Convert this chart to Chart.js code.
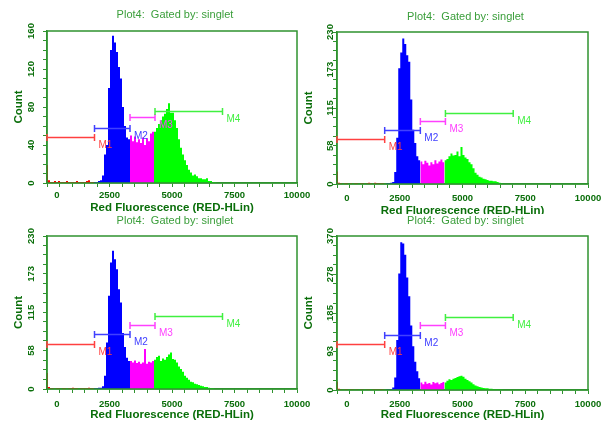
<!DOCTYPE html>
<html>
<head>
<meta charset="utf-8">
<title>Plot4 histograms</title>
<script src="https://cdn.jsdelivr.net/npm/chart.js@4.4.1/dist/chart.umd.min.js"></script>
<style>
  html, body { margin: 0; padding: 0; background: #fff; }
  #wrap { position: relative; width: 605px; height: 421px; overflow: hidden; }
  #wrap canvas { position: absolute; }
</style>
</head>
<body>
<div id="wrap">
  <canvas id="p1" width="312" height="214" style="left:0;top:0"></canvas>
  <canvas id="p2" width="305" height="214" style="left:300px;top:0"></canvas>
  <canvas id="p3" width="312" height="207" style="left:0;top:214px"></canvas>
  <canvas id="p4" width="305" height="207" style="left:300px;top:214px"></canvas>
</div>
<script>
/* ── Histogram data (RED-HLin channel, bins of 80 starting at -40) ── */
const binStart = -40;
const binWidth = 80;

const counts1 = [
  19, 3, 1, 1, 2, 1, 2, 1, 1, 1, 2, 1, 1, 1, 1, 2, 1, 1, 1, 1, 2, 3, 1,
  1, 1, 1, 2, 3, 8, 30, 40, 100, 140, 155, 148, 138, 122, 110, 80, 60, 48, 46,
  50, 44, 49, 43, 46, 42, 48, 40, 47, 44, 52, 54,
  54, 58, 62, 66, 70, 73, 78, 84, 74, 74, 66, 58, 46, 37, 30, 24, 19, 14, 11, 8,
  9, 7, 5, 5, 4, 4, 5, 2, 2, 1, 1, 0
];
const counts2 = [
  19, 2, 1, 0, 1, 1, 0, 1, 0, 1, 1, 0, 1, 1, 0, 1, 2, 1, 0, 2, 1, 1, 1,
  1, 0, 1, 1, 2, 3, 18, 70, 175, 199, 220, 212, 195, 185, 128, 82, 62, 42, 36,
  34, 30, 35, 32, 28, 33, 30, 36, 31, 34, 37, 33,
  36, 38, 42, 46, 43, 44, 49, 42, 56, 44, 40, 38, 33, 30, 24, 17, 14, 11, 10, 8,
  7, 6, 5, 5, 4, 4, 3, 2, 1, 0, 0, 0
];
const counts3 = [
  24, 3, 1, 1, 0, 1, 1, 0, 1, 1, 0, 1, 1, 2, 1, 1, 0, 1, 1, 1, 1, 2, 1,
  1, 1, 1, 2, 2, 4, 20, 70, 140, 190, 208, 195, 180, 150, 130, 84, 63, 47, 42,
  42, 40, 43, 39, 41, 38, 40, 60, 38, 41, 40, 42,
  44, 48, 50, 42, 46, 44, 48, 52, 55, 45, 44, 40, 34, 30, 26, 20, 17, 14, 11, 10,
  8, 7, 6, 5, 4, 3, 3, 2, 1, 1, 0, 0
];
const counts4 = [
  20, 3, 1, 0, 1, 1, 0, 1, 1, 0, 1, 0, 1, 1, 0, 1, 1, 0, 1, 1, 1, 1, 2,
  1, 0, 1, 1, 2, 6, 30, 120, 280, 355, 352, 325, 270, 225, 155, 105, 68, 45, 28,
  18, 14, 20, 15, 17, 13, 19, 16, 18, 14, 17, 19,
  18, 22, 26, 24, 27, 29, 31, 33, 34, 32, 27, 24, 21, 18, 14, 11, 9, 7, 6, 5,
  4, 4, 3, 3, 2, 2, 2, 1, 1, 0, 0, 0
];

/* ── Markers M1..M4 ── */
const gateNames = ['M1', 'M2', 'M3', 'M4'];
const gateStart = [0, 1900, 3320, 4320];
const gateEnd = [1900, 3320, 4320, 7020];
const gateLevels1 = [48, 58, 69, 76];
const gateLevels2 = [68, 82, 96, 108];
const gateLevels3 = [68, 83, 96, 109];
const gateLevels4 = [110, 133, 155, 176];

/* ── Axes ── */
const xTicks = [0, 2500, 5000, 7500, 10000];
const yTicks1 = [0, 40, 80, 120, 160];
const yTicks2 = [0, 58, 115, 173, 230];
const yTicks3 = [0, 58, 115, 173, 230];
const yTicks4 = [0, 93, 185, 278, 370];

const plotTitle = 'Plot4:  Gated by: singlet';
const xTitle = 'Red Fluorescence (RED-HLin)';
const yTitle = 'Count';

/* ── Style ── */
const FONT = "'Liberation Sans', Arial, sans-serif";
const fillColors = ['#ff0000', '#0000ff', '#ff00ff', '#00ff00'];
const gateColors = ['#ff4040', '#4040ff', '#ff40ff', '#40f040'];
const frameColor = '#2f932f';
const tickColor = '#0a6e0a';
const titleColor = '#3a9e3a';

// panel placement inside each canvas (chart area edges + text offsets)
const panels = [
  { id: 'p1', counts: counts1, levels: gateLevels1, yTicks: yTicks1,
    area: { l: 47, r: 297, t: 31, b: 183 }, titleY: 14.5, xTitleY: 208, yTitleX: 18.5, yLabGap: 16, xLabGap: 12.5 },
  { id: 'p2', counts: counts2, levels: gateLevels2, yTicks: yTicks2,
    area: { l: 37, r: 288, t: 32, b: 184 }, titleY: 16.5, xTitleY: 211, yTitleX: 9, yLabGap: 6.5, xLabGap: 14 },
  { id: 'p3', counts: counts3, levels: gateLevels3, yTicks: yTicks3,
    area: { l: 47, r: 297, t: 22, b: 175 }, titleY: 7, xTitleY: 200.5, yTitleX: 19, yLabGap: 16, xLabGap: 15.5 },
  { id: 'p4', counts: counts4, levels: gateLevels4, yTicks: yTicks4,
    area: { l: 37, r: 288, t: 22, b: 176 }, titleY: 7, xTitleY: 201, yTitleX: 9, yLabGap: 6.5, xLabGap: 14.5 }
];

function regionOf(v) {
  for (let k = 0; k < gateEnd.length; k++) {
    if (v < gateEnd[k]) return k;
  }
  return gateEnd.length - 1;
}

// split the histogram into one filled step series per marker colour
function histDatasets(counts) {
  const parts = gateNames.map(function () { return []; });
  counts.forEach(function (c, i) {
    const left = binStart + i * binWidth;
    parts[regionOf(left + binWidth / 2)].push({ x: left, y: c });
  });
  return parts.map(function (pts, k) {
    const last = pts[pts.length - 1];
    if (last) pts.push({ x: last.x + binWidth, y: last.y });
    return {
      data: pts,
      stepped: true,
      fill: 'origin',
      backgroundColor: fillColors[k],
      borderColor: 'rgba(0,0,0,0)',
      borderWidth: 0,
      pointRadius: 0
    };
  });
}

// major ticks plus three minor ticks between each pair
function withMinor(majors) {
  const out = [];
  for (let i = 0; i < majors.length; i++) {
    out.push({ value: majors[i] });
    if (i < majors.length - 1) {
      const step = (majors[i + 1] - majors[i]) / 4;
      for (let j = 1; j < 4; j++) out.push({ value: majors[i] + step * j });
    }
  }
  return out;
}

const decor = {
  id: 'decor',
  afterDatasetsDraw: function (chart, args, opts) {
    const p = opts.panel;
    const ctx = chart.ctx;
    const ca = chart.chartArea;
    const xs = chart.scales.x, ys = chart.scales.y;
    ctx.save();

    // frame
    ctx.strokeStyle = frameColor;
    ctx.lineWidth = 1.5;
    ctx.strokeRect(ca.left, ca.top, ca.right - ca.left, ca.bottom - ca.top);

    // marker bars
    ctx.font = '10px ' + FONT;
    ctx.textAlign = 'left';
    ctx.textBaseline = 'middle';
    gateNames.forEach(function (name, k) {
      const y = Math.round(ys.getPixelForValue(p.levels[k])) + 0.5;
      const x0 = xs.getPixelForValue(gateStart[k]);
      const x1 = xs.getPixelForValue(gateEnd[k]);
      ctx.strokeStyle = gateColors[k];
      ctx.lineWidth = 1.5;
      ctx.beginPath();
      ctx.moveTo(x0, y); ctx.lineTo(x1, y);
      ctx.moveTo(x0, y - 3.5); ctx.lineTo(x0, y + 3.5);
      ctx.moveTo(x1, y - 3.5); ctx.lineTo(x1, y + 3.5);
      ctx.stroke();
      ctx.fillStyle = gateColors[k];
      ctx.fillText(name, x1 + 4, y + 8);
    });

    // tick labels
    ctx.fillStyle = tickColor;
    ctx.font = 'bold 9.5px ' + FONT;
    ctx.textAlign = 'center';
    ctx.textBaseline = 'middle';
    xTicks.forEach(function (v) {
      const x = Math.max(xs.getPixelForValue(v), ca.left + 10);
      ctx.fillText(String(v), x, ca.bottom + p.xLabGap);
    });
    p.yTicks.forEach(function (v) {
      ctx.save();
      ctx.translate(ca.left - p.yLabGap, ys.getPixelForValue(v));
      ctx.rotate(-Math.PI / 2);
      ctx.fillText(String(v), 0, 0);
      ctx.restore();
    });

    // plot title
    ctx.fillStyle = titleColor;
    ctx.font = '11px ' + FONT;
    ctx.fillText(plotTitle, (ca.left + ca.right) / 2 + 3, p.titleY);
    ctx.restore();
  }
};

panels.forEach(function (p) {
  const canvas = document.getElementById(p.id);
  const W = canvas.width, H = canvas.height;
  const yMax = p.yTicks[p.yTicks.length - 1];
  const titleFont = { family: FONT, size: 11.5, weight: 'bold', lineHeight: 1.2 };
  const half = 11.5 * 1.2 / 2;

  new Chart(canvas, {
    type: 'line',
    data: { datasets: histDatasets(p.counts) },
    options: {
      responsive: false,
      animation: false,
      events: [],
      layout: { padding: { left: 0, top: p.area.t, right: W - p.area.r, bottom: 0 } },
      plugins: {
        legend: { display: false },
        tooltip: { enabled: false },
        decor: { panel: p }
      },
      scales: {
        x: {
          type: 'linear',
          min: 0,
          max: 10000,
          ticks: { display: false, stepSize: 500 },
          grid: { drawOnChartArea: false, drawTicks: true, tickLength: 4, color: frameColor, lineWidth: 1 },
          border: { display: true, color: frameColor, width: 1.5 },
          title: {
            display: true, text: xTitle, color: tickColor, font: titleFont,
            padding: { top: 0, bottom: H - p.xTitleY - half }
          },
          afterFit: function (s) { s.height = H - p.area.b; }
        },
        y: {
          type: 'linear',
          min: 0,
          max: yMax,
          ticks: { display: false },
          afterBuildTicks: function (s) { s.ticks = withMinor(p.yTicks); },
          grid: { drawOnChartArea: false, drawTicks: true, tickLength: 4, color: frameColor, lineWidth: 1 },
          border: { display: true, color: frameColor, width: 1.5 },
          title: {
            display: true, text: yTitle, color: tickColor, font: titleFont,
            padding: { top: p.yTitleX - half, bottom: 0 }
          },
          afterFit: function (s) { s.width = p.area.l; }
        }
      }
    },
    plugins: [decor]
  });
});
</script>
</body>
</html>
